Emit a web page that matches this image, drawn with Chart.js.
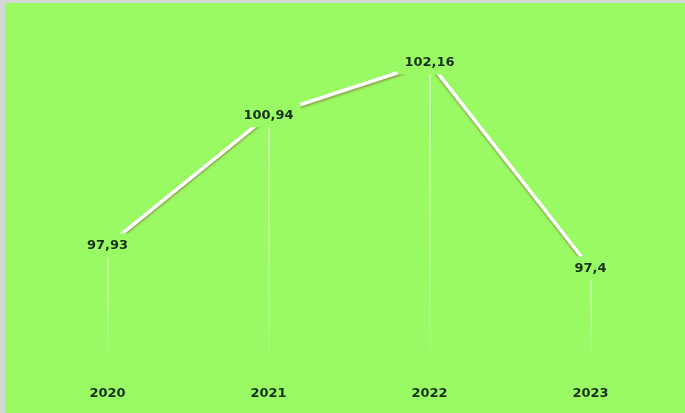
<!DOCTYPE html>
<html>
<head>
<meta charset="utf-8">
<script src="https://cdn.jsdelivr.net/npm/chart.js@4"></script>
<style>
  html, body { margin: 0; padding: 0; background: #d4d8d4; }
  #wrap { position: absolute; left: 5px; top: 3px; width: 680px; height: 410px; background: #99fa63; }
</style>
</head>
<body>
<div id="wrap"><canvas id="canvas" width="680" height="410"></canvas></div>
<script>
const years = ['2020', '2021', '2022', '2023'];
const values = [97.93, 100.94, 102.16, 97.4];
const labelText = ['97,93', '100,94', '102,16', '97,4'];

const BG = '#99fa63';

// drop lines + labels with a green patch behind them
const labelPlugin = {
  id: 'labels',
  beforeDatasetsDraw(chart) {
    const ctx = chart.ctx;
    const meta = chart.getDatasetMeta(0);
    const bottom = chart.chartArea.bottom - 20;
    ctx.save();
    meta.data.forEach((pt) => {
      const g = ctx.createLinearGradient(0, pt.y, 0, bottom);
      g.addColorStop(0, 'rgba(255,255,255,0.9)');
      g.addColorStop(1, 'rgba(255,255,255,0.15)');
      ctx.strokeStyle = g;
      ctx.lineWidth = 1;
      ctx.beginPath();
      ctx.moveTo(pt.x + 0.5, pt.y);
      ctx.lineTo(pt.x + 0.5, bottom);
      ctx.stroke();
    });
    ctx.restore();
  },
  afterDatasetsDraw(chart) {
    const ctx = chart.ctx;
    const meta = chart.getDatasetMeta(0);
    ctx.save();
    ctx.font = 'bold 13px "DejaVu Sans"';
    ctx.textAlign = 'center';
    ctx.textBaseline = 'middle';
    meta.data.forEach((pt, i) => {
      const w = ctx.measureText(labelText[i]).width + 14;
      ctx.fillStyle = BG;
      ctx.fillRect(pt.x - w / 2, pt.y - 12, w, 24);
      ctx.fillStyle = '#173117';
      ctx.fillText(labelText[i], pt.x, pt.y);
    });
    ctx.restore();
  }
};

const shadowPlugin = {
  id: 'lineShadow',
  beforeDatasetDraw(chart) {
    const ctx = chart.ctx;
    ctx.save();
    ctx.shadowColor = 'rgba(130,100,60,0.55)';
    ctx.shadowBlur = 2;
    ctx.shadowOffsetX = 0;
    ctx.shadowOffsetY = 2;
  },
  afterDatasetDraw(chart) {
    chart.ctx.restore();
  }
};

new Chart(document.getElementById('canvas').getContext('2d'), {
  type: 'line',
  data: {
    labels: years,
    datasets: [{
      data: values,
      borderColor: '#ffffff',
      borderWidth: 3.5,
      pointRadius: 0,
      tension: 0,
      fill: false
    }]
  },
  options: {
    responsive: false,
    animation: false,
    layout: { padding: { left: 22, right: 14, top: 14, bottom: 0 } },
    plugins: { legend: { display: false }, tooltip: { enabled: false } },
    scales: {
      x: {
        offset: true,
        grid: { display: false, drawTicks: false },
        border: { display: false },
        ticks: { color: '#173117', font: { family: 'DejaVu Sans', size: 13, weight: 'bold' }, padding: 12 }
      },
      y: {
        display: false,
        min: 94.97,
        max: 103.21
      }
    }
  },
  plugins: [labelPlugin, shadowPlugin]
});
</script>
</body>
</html>
